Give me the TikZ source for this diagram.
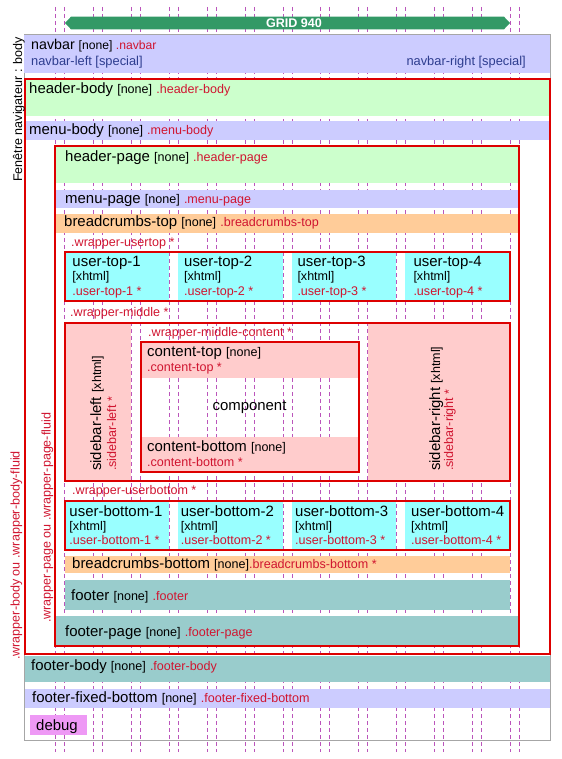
\documentclass[tikz,border=0pt]{standalone}
\usepackage{fontspec}
\setmainfont{Liberation Sans}
\usetikzlibrary{arrows}
\definecolor{lavender}{HTML}{CCCCFF}
\definecolor{lightgreen}{HTML}{CCFFCC}
\definecolor{crumb}{HTML}{FFCC99}
\definecolor{usercyan}{HTML}{99FFFF}
\definecolor{sidepink}{HTML}{FFCCCC}
\definecolor{footteal}{HTML}{99CCCC}
\definecolor{debugviolet}{HTML}{EE99F5}
\definecolor{wrapred}{HTML}{DD0000}
\definecolor{clsred}{HTML}{D01530}
\definecolor{navtext}{HTML}{2E3D8F}
\definecolor{gridmag}{HTML}{BB55BB}
\definecolor{gridgreen}{HTML}{339966}
\tikzstyle{wrap} = [draw=wrapred, line width=2bp]
\tikzstyle{gridline} = [draw=gridmag, line width=0.7bp, dash pattern=on 4bp off 3bp]
\tikzstyle{lbl} = [anchor=base west, inner sep=0pt, font=\fontsize{15}{18}\selectfont]
\tikzstyle{sublbl} = [anchor=base west, inner sep=0pt, font=\fontsize{12.6}{15}\selectfont]
\tikzstyle{cls} = [sublbl, text=clsred]
\newcommand{\tagnone}{{\fontsize{12.6}{15}\selectfont[none]}}
\newcommand{\tagcls}[1]{{\fontsize{12.6}{15}\selectfont\color{clsred}#1}}
\begin{document}
\begin{tikzpicture}[x=1bp, y=-1bp]
\useasboundingbox (0,0) rectangle (562,759);

% grid 940
\foreach \k in {0,...,12} {
  \draw [gridline] ({55.7+37.86*\k},7) -- ({55.7+37.86*\k},752);
  \draw [gridline] ({64.7+37.86*\k},7) -- ({64.7+37.86*\k},752);
}
\fill [gridgreen] (65,23) -- (71,16.7) -- (504,16.7) -- (510,23) -- (504,29.3) -- (71,29.3) -- cycle;
\node [inner sep=0pt, text=white, font=\fontsize{12.6}{15}\selectfont\bfseries] (grid) at (294,23) {GRID 940};

% body
\draw [gray!70, line width=1bp] (24,35) rectangle (550,740);
\fill [lavender] (24,35) rectangle (550,73);
\fill [lightgreen] (25,79) rectangle (550,116);
\fill [lavender] (25,121) rectangle (550,140);
\fill [footteal] (25,655.5) rectangle (550,681.7);
\fill [lavender] (25,689) rectangle (550,708);
\fill [debugviolet] (30,715) rectangle (87,735);

% page
\fill [lightgreen] (55,146) rectangle (518.5,183);
\fill [lavender] (55,190) rectangle (518,207.5);
\fill [crumb] (55,213.5) rectangle (518,232.5);
\foreach \k in {0,...,3} {
  \fill [usercyan] ({64.7+113.58*\k},252) rectangle ({55.7+113.58*(\k+1)},300.5);
  \fill [usercyan] ({64.7+113.58*\k},500.5) rectangle ({55.7+113.58*(\k+1)},549.5);
}
\fill [sidepink] (64.7,323) rectangle (131.4,481);
\fill [sidepink] (367.6,323) rectangle (510,481);
\fill [sidepink] (140.4,342) rectangle (358.6,377.5);
\fill [sidepink] (140.4,437.3) rectangle (358.6,472);
\fill [crumb] (64.7,556) rectangle (510,573.3);
\fill [footteal] (64.7,580) rectangle (510,609.5);
\fill [footteal] (55,616) rectangle (518.5,644.5);

% wrappers
\draw [wrap] (25,79) rectangle (550,654);
\draw [wrap] (55,146) rectangle (518.7,645.5);
\draw [wrap] (64.7,252.3) rectangle (510,300.7);
\draw [wrap] (64.7,323.3) rectangle (510,481);
\draw [wrap] (140.7,341.7) rectangle (359,472.3);
\draw [wrap] (64.7,500.7) rectangle (510,549.7);

% labels
\node [lbl, font=\fontsize{14.3}{17}\selectfont] (navbar) at (31,50) {navbar {\fontsize{12.2}{14}\selectfont [none] \color{clsred}.navbar}};
\node [sublbl, text=navtext, font=\fontsize{12.9}{15}\selectfont] (navleft) at (31,66) {navbar-left [special]};
\node [sublbl, text=navtext, font=\fontsize{12.9}{15}\selectfont, anchor=base east] (navright) at (526,66) {navbar-right [special]};
\node [lbl] (hbody) at (29,93.3) {header-body \tagnone\ \tagcls{.header-body}};
\node [lbl] (mbody) at (29,134.5) {menu-body \tagnone\ \tagcls{.menu-body}};
\node [lbl] (hpage) at (65,161.7) {header-page \tagnone\ \tagcls{.header-page}};
\node [lbl] (mpage) at (65,203.3) {menu-page \tagnone\ \tagcls{.menu-page}};
\node [lbl] (btop) at (64,226.7) {breadcrumbs-top \tagnone\ \tagcls{.breadcrumbs-top}};
\node [cls] (wtop) at (71,246) {.wrapper-usertop *};
\foreach \i/\x in {1/72.3, 2/184, 3/297.3, 4/413.3} {
  \node [lbl] (ut\i) at (\x,266.7) {user-top-\i};
  \node [sublbl] (utx\i) at (\x,280.5) {[xhtml]};
  \node [cls] (utc\i) at (\x,295.3) {.user-top-\i{} *};
}
\node [cls] (wmid) at (70,316.7) {.wrapper-middle *};
\node [cls] (wmidc) at (148,336) {.wrapper-middle-content *};
\node [lbl, rotate=90] (sleft) at (101,471) {sidebar-left {\fontsize{12.6}{15}\selectfont[xhtml]}};
\node [cls, rotate=90] (sleftc) at (116,471) {.sidebar-left *};
\node [lbl, rotate=90] (sright) at (440,471) {sidebar-right {\fontsize{12.6}{15}\selectfont[xhtml]}};
\node [cls, rotate=90] (srightc) at (453,471) {.sidebar-right *};
\node [lbl] (ctop) at (147,356) {content-top \tagnone};
\node [cls] (ctopc) at (147,371.7) {.content-top *};
\node [lbl, anchor=base] (comp) at (249.5,410) {component};
\node [lbl] (cbot) at (147,451.7) {content-bottom \tagnone};
\node [cls] (cbotc) at (147,466.7) {.content-bottom *};
\node [cls] (wbot) at (72,494.3) {.wrapper-userbottom *};
\foreach \i/\x in {1/69.3, 2/180.7, 3/295, 4/411} {
  \node [lbl] (ub\i) at (\x,516) {user-bottom-\i};
  \node [sublbl] (ubx\i) at (\x,530) {[xhtml]};
  \node [cls] (ubc\i) at (\x,544.3) {.user-bottom-\i{} *};
}
\node [lbl] (bbot) at (72,568.3) {breadcrumbs-bottom \tagnone\tagcls{.breadcrumbs-bottom *}};
\node [lbl] (foot) at (71,600.7) {footer \tagnone\ \tagcls{.footer}};
\node [lbl] (fpage) at (65,636.7) {footer-page \tagnone\ \tagcls{.footer-page}};
\node [lbl] (fbody) at (31,670.7) {footer-body \tagnone\ \tagcls{.footer-body}};
\node [lbl] (ffixed) at (32,702.3) {footer-fixed-bottom \tagnone\ \tagcls{.footer-fixed-bottom}};
\node [lbl] (debug) at (36,730) {debug};
\node [sublbl, rotate=90] (window) at (22,182) {Fenêtre navigateur : body};
\node [cls, rotate=90] (wbody) at (19.5,660) {.wrapper-body ou .wrapper-body-fluid};
\node [cls, rotate=90] (wpage) at (50.5,623) {.wrapper-page ou .wrapper-page-fluid};

\end{tikzpicture}
\end{document}
